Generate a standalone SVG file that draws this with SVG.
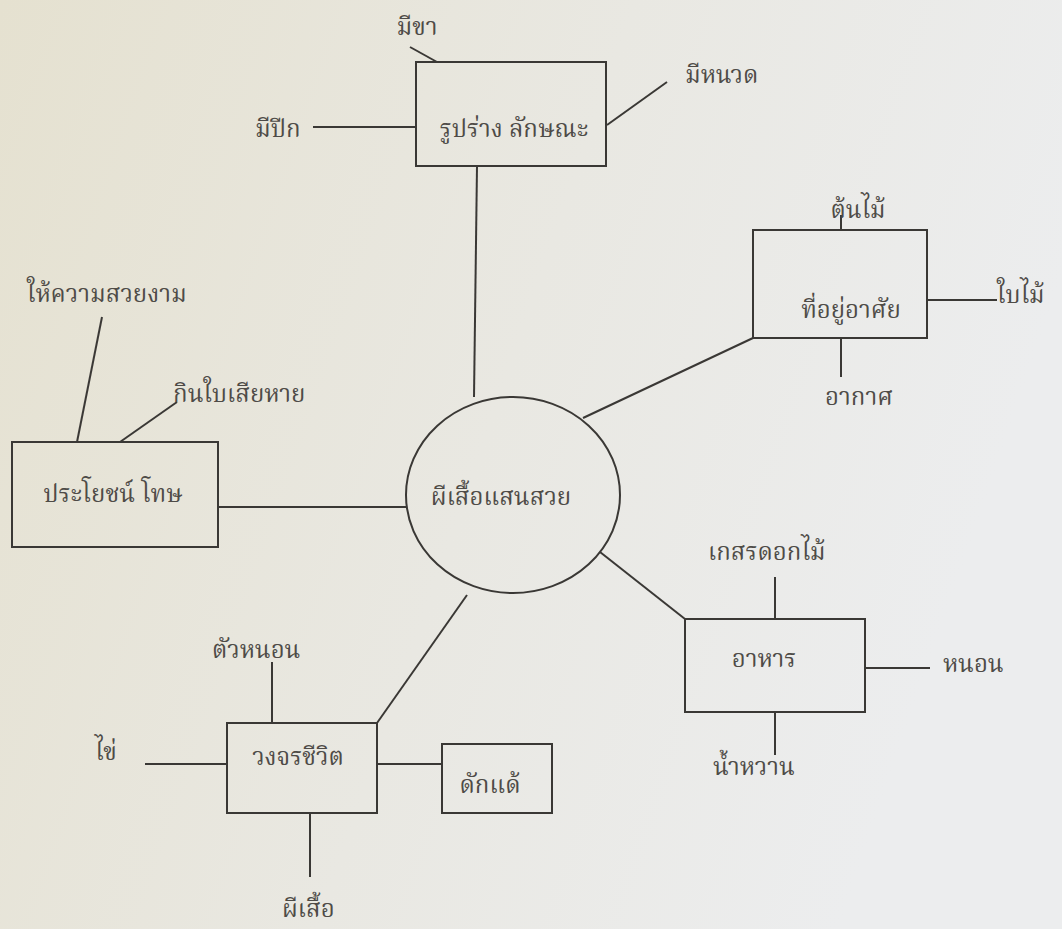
<svg xmlns="http://www.w3.org/2000/svg" width="1062" height="929" viewBox="0 0 1062 929">
<defs>
<linearGradient id="bg" x1="0" y1="0" x2="1" y2="0.3">
<stop offset="0" stop-color="#e5e1d0"/>
<stop offset="0.55" stop-color="#e9e8e2"/>
<stop offset="1" stop-color="#ecedee"/>
</linearGradient>
<style>
.box{fill:none;stroke:#3a3835;stroke-width:2}
.ln{stroke:#3a3835;stroke-width:2;fill:none}
text{font-family:"Noto Serif Thai","Noto Sans Thai","Noto Sans","DejaVu Sans",sans-serif;font-size:24px;fill:#4e4b47}
.m{text-anchor:middle}
</style>
</defs>
<rect width="1062" height="929" fill="url(#bg)"/>
<g id="connectors">
<line class="ln" x1="477" y1="166" x2="474" y2="397"/>
<line class="ln" x1="410" y1="47" x2="437" y2="62"/>
<line class="ln" x1="607" y1="125" x2="667" y2="82"/>
<line class="ln" x1="313" y1="127" x2="416" y2="127"/>
<line class="ln" x1="753" y1="338" x2="583" y2="418"/>
<line class="ln" x1="841" y1="215" x2="841" y2="230"/>
<line class="ln" x1="927" y1="300" x2="997" y2="300"/>
<line class="ln" x1="841" y1="338" x2="841" y2="377"/>
<line class="ln" x1="218" y1="507" x2="407" y2="507"/>
<line class="ln" x1="102" y1="317" x2="77" y2="442"/>
<line class="ln" x1="120" y1="442" x2="177" y2="402"/>
<line class="ln" x1="600" y1="552" x2="685" y2="619"/>
<line class="ln" x1="775" y1="577" x2="775" y2="619"/>
<line class="ln" x1="865" y1="668" x2="930" y2="668"/>
<line class="ln" x1="775" y1="712" x2="775" y2="755"/>
<line class="ln" x1="467" y1="595" x2="377" y2="723"/>
<line class="ln" x1="272" y1="662" x2="272" y2="723"/>
<line class="ln" x1="145" y1="764" x2="227" y2="764"/>
<line class="ln" x1="377" y1="764" x2="442" y2="764"/>
<line class="ln" x1="310" y1="813" x2="310" y2="877"/>
</g>
<g id="center">
<ellipse class="box" cx="513" cy="495" rx="107" ry="98"/>
<text class="m" x="501" y="505">ผีเสื้อแสนสวย</text>
</g>
<g id="shape">
<rect class="box" x="416" y="62" width="190" height="104"/>
<text class="m" x="514" y="137">รูปร่าง ลักษณะ</text>
</g>
<g id="habitat">
<rect class="box" x="753" y="230" width="174" height="108"/>
<text class="m" x="851" y="318">ที่อยู่อาศัย</text>
</g>
<g id="benefit">
<rect class="box" x="12" y="442" width="206" height="105"/>
<text class="m" x="113" y="502">ประโยชน์ โทษ</text>
</g>
<g id="food">
<rect class="box" x="685" y="619" width="180" height="93"/>
<text class="m" x="764" y="667">อาหาร</text>
</g>
<g id="lifecycle">
<rect class="box" x="227" y="723" width="150" height="90"/>
<text class="m" x="298" y="765">วงจรชีวิต</text>
</g>
<g id="pupa">
<rect class="box" x="442" y="744" width="110" height="69"/>
<text class="m" x="490" y="793">ดักแด้</text>
</g>
<g id="leaf-legs"><text class="m" x="417" y="35">มีขา</text></g>
<g id="leaf-antenna"><text x="685" y="83">มีหนวด</text></g>
<g id="leaf-wings"><text x="255" y="137">มีปีก</text></g>
<g id="leaf-tree"><text class="m" x="858" y="218">ต้นไม้</text></g>
<g id="leaf-leaf"><text x="997" y="303">ใบไม้</text></g>
<g id="leaf-air"><text class="m" x="859" y="405">อากาศ</text></g>
<g id="leaf-beauty"><text x="27" y="302">ให้ความสวยงาม</text></g>
<g id="leaf-harm"><text x="173" y="402">กินใบเสียหาย</text></g>
<g id="leaf-pollen"><text x="708" y="560">เกสรดอกไม้</text></g>
<g id="leaf-worm"><text x="943" y="672">หนอน</text></g>
<g id="leaf-nectar"><text x="713" y="775">น้ำหวาน</text></g>
<g id="leaf-larva"><text x="212" y="658">ตัวหนอน</text></g>
<g id="leaf-egg"><text x="95" y="760">ไข่</text></g>
<g id="leaf-butterfly"><text x="282" y="917">ผีเสื้อ</text></g>
</svg>
